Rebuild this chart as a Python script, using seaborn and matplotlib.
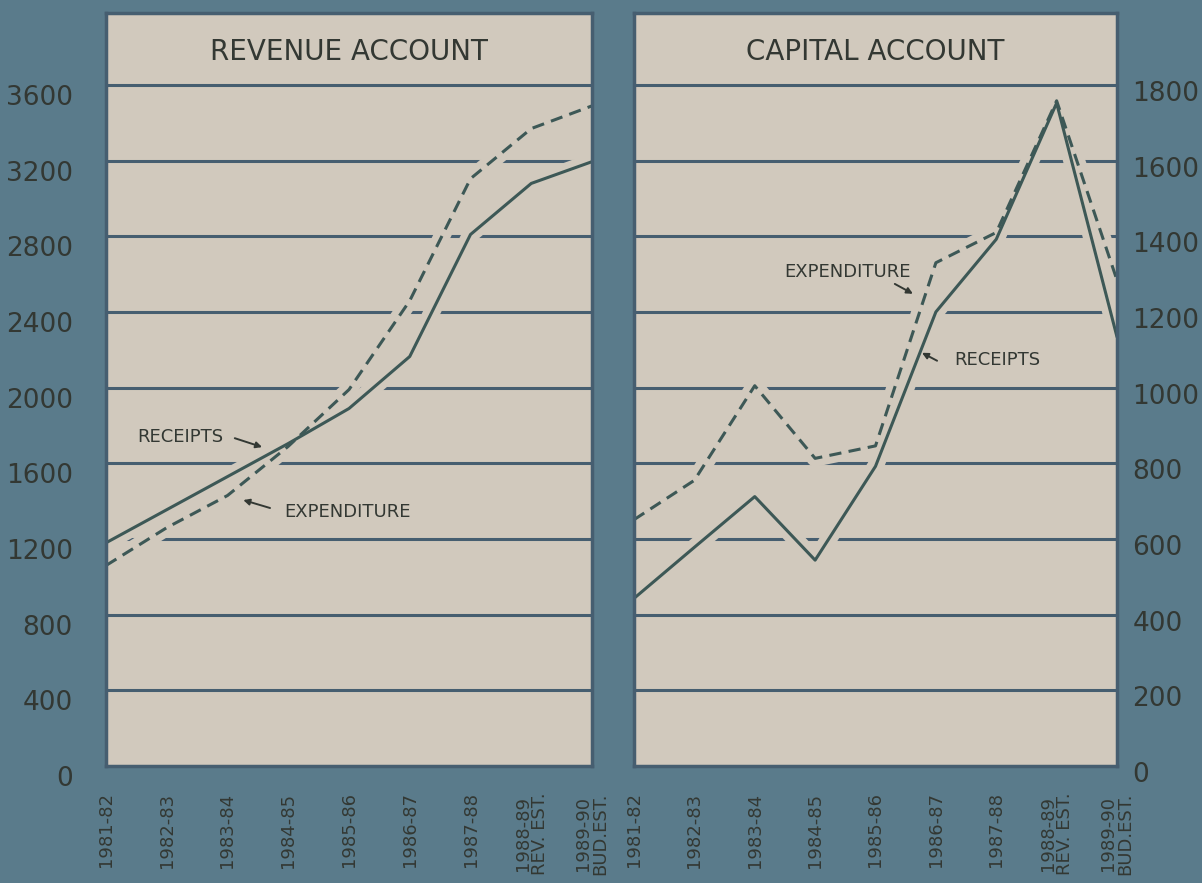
import matplotlib
matplotlib.use("Agg")
import matplotlib.pyplot as plt
from matplotlib.transforms import ScaledTranslation
import pandas as pd
import seaborn as sns

# values (Rs. crore)
years = ["1981-82", "1982-83", "1983-84", "1984-85", "1985-86", "1986-87",
         "1987-88", "1988-89\nREV. EST.", "1989-90\nBUD.EST."]
rev_receipts = [1180, 1355, 1530, 1705, 1890, 2165, 2810, 3080, 3195]
rev_expenditure = [1060, 1260, 1430, 1690, 1990, 2460, 3105, 3370, 3490]
cap_receipts = [443, 578, 712, 544, 792, 1200, 1392, 1752, 1134]
cap_expenditure = [651, 755, 1005, 813, 846, 1330, 1410, 1758, 1284]

rev_ticks = list(range(0, 3601, 400))
cap_ticks = list(range(0, 1801, 200))

BG = "#5a7b8b"
PANEL = "#d1c9bd"
GRID = "#465e70"
LINE = "#3d5856"
TEXT = "#333833"

sns.set_style("white")
plt.rcParams["font.family"] = ["DejaVu Sans"]


def long_df(receipts, expenditure):
    n = len(years)
    return pd.DataFrame({
        "x": list(range(n)) * 2,
        "value": receipts + expenditure,
        "series": ["Receipts"] * n + ["Expenditure"] * n,
    })


fig = plt.figure(figsize=(12.02, 8.83), dpi=100, facecolor=BG)
ax1 = fig.add_axes([106 / 1202, 117 / 883, 486 / 1202, 753 / 883])
ax2 = fig.add_axes([634 / 1202, 117 / 883, 483 / 1202, 753 / 883])

panels = [
    (ax1, rev_receipts, rev_expenditure, rev_ticks, 3981, "REVENUE ACCOUNT"),
    (ax2, cap_receipts, cap_expenditure, cap_ticks, 1990, "CAPITAL ACCOUNT"),
]

for ax, rec, exp, ticks, top, title in panels:
    df = long_df(rec, exp)
    ax.set_facecolor(PANEL)
    for v in ticks[1:]:
        ax.axhline(v, color=GRID, lw=2.2, zorder=1)
    # halo under the curves so the rules break where they are crossed
    for vals in (rec, exp):
        ax.plot(range(len(years)), vals, color=PANEL, lw=12, zorder=2,
                solid_joinstyle="round")
    sns.lineplot(data=df, x="x", y="value", style="series", ax=ax,
                 color=LINE, lw=2.2, legend=False, zorder=3,
                 dashes={"Receipts": "", "Expenditure": (4, 2.4)})
    ax.set_xlim(0, len(years) - 1)
    ax.set_ylim(0, top)
    ax.set_xlabel("")
    ax.set_ylabel("")
    ax.set_xticks(range(len(years)))
    ax.set_xticklabels(years, rotation=90, va="top", ha="center",
                       fontsize=13, color=TEXT, linespacing=0.95)
    ax.set_yticks(ticks)
    ax.set_yticklabels([str(t) for t in ticks], fontsize=19, color=TEXT)
    ax.tick_params(length=0)
    ax.tick_params(axis="x", pad=19)
    for s in ax.spines.values():
        s.set_color(GRID)
        s.set_linewidth(2.5)
        s.set_zorder(4)
    ax.text(0.5, 0.948, title, transform=ax.transAxes, ha="center",
            va="center", fontsize=20, color=TEXT)

ax1.tick_params(axis="y", pad=24)
for lab in ax1.get_yticklabels():
    lab.set_transform(lab.get_transform()
                      + ScaledTranslation(0, -0.10, fig.dpi_scale_trans))

ax2.yaxis.tick_right()
ax2.tick_params(axis="y", pad=11)
for lab in ax2.get_yticklabels():
    lab.set_transform(lab.get_transform()
                      + ScaledTranslation(0, -0.06, fig.dpi_scale_trans))

arrow = dict(arrowstyle="-|>", color=TEXT, lw=1.4, mutation_scale=9,
             shrinkA=0, shrinkB=0)

# revenue account labels
ax1.text(1.23, 1739, "RECEIPTS", ha="center", va="center", fontsize=13,
         color=TEXT)
ax1.annotate("", xy=(2.57, 1686), xytext=(2.12, 1733), arrowprops=arrow)
ax1.text(3.97, 1342, "EXPENDITURE", ha="center", va="center",
         fontsize=13, color=TEXT)
ax1.annotate("", xy=(2.26, 1406), xytext=(2.70, 1364), arrowprops=arrow)

# capital account labels
ax2.text(3.54, 1306, "EXPENDITURE", ha="center", va="center",
         fontsize=13, color=TEXT)
ax2.annotate("", xy=(4.62, 1248), xytext=(4.32, 1274), arrowprops=arrow)
ax2.text(6.01, 1073, "RECEIPTS", ha="center", va="center", fontsize=13,
         color=TEXT)
ax2.annotate("", xy=(4.77, 1092), xytext=(5.02, 1071), arrowprops=arrow)

fig.savefig("out.png", dpi=100, facecolor=BG)
